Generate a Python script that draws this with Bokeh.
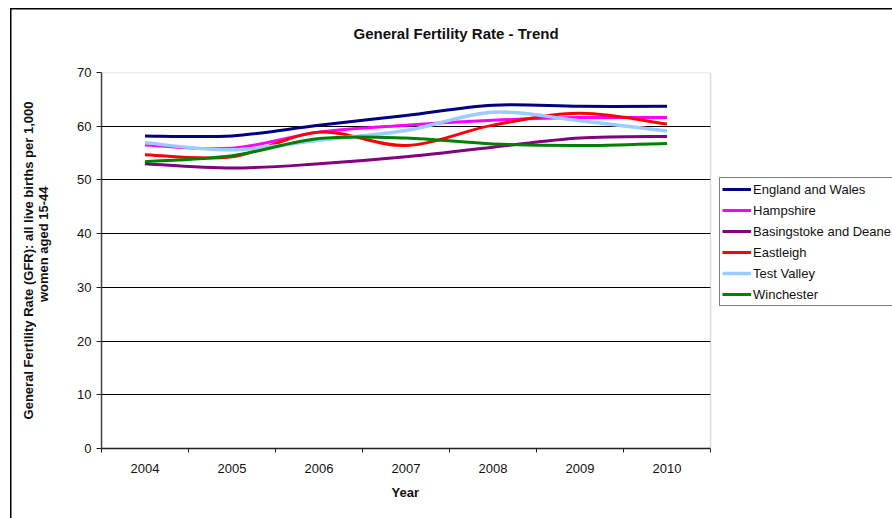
from bokeh.plotting import figure
from bokeh.models import (Range1d, FixedTicker, Legend, LegendItem, Title,
                          ColumnDataSource, LinearAxis, BoxAnnotation)
from bokeh.embed import file_html
from bokeh.resources import INLINE

# ---- data ----
years = ["2004", "2005", "2006", "2007", "2008", "2009", "2010"]
series_names = ["England and Wales", "Hampshire", "Basingstoke and Deane",
                "Eastleigh", "Test Valley", "Winchester"]
england_wales = [58.2, 58.2, 60.2, 62.0, 63.9, 63.7, 63.7]
hampshire = [56.5, 55.9, 58.9, 60.2, 61.1, 61.6, 61.6]
basingstoke = [53.0, 52.2, 53.0, 54.3, 56.1, 57.8, 58.1]
eastleigh = [54.7, 54.3, 58.9, 56.4, 60.2, 62.4, 60.4]
test_valley = [56.9, 55.6, 57.4, 59.2, 62.6, 61.0, 59.1]
winchester = [53.4, 54.5, 57.7, 57.8, 56.7, 56.4, 56.8]
y_ticks = [0, 10, 20, 30, 40, 50, 60, 70]

series_values = [england_wales, hampshire, basingstoke, eastleigh, test_valley, winchester]
colors = ["#000080", "#FF00FF", "#800080", "#FF0000", "#99CCFF", "#008000"]
widths = [3, 3, 3, 3, 3.5, 3]

FONT = "Liberation Sans"
FS = "13px"

W, H = 892, 518
PLOT_L, PLOT_R = 101, 710          # plot-area edges (px)
PLOT_T, PLOT_B = 72, 448
n_cat = len(years)
x_end = n_cat * (W - PLOT_L) / (PLOT_R - PLOT_L)   # frame extends under the legend

p = figure(width=W, height=H, output_backend="svg", toolbar_location=None,
           x_range=Range1d(0, x_end), y_range=Range1d(0, y_ticks[-1]),
           min_border_left=PLOT_L, min_border_right=0, min_border_top=PLOT_T,
           min_border_bottom=H - PLOT_B)
p.background_fill_color = "white"
p.border_fill_alpha = 0
p.styles = {
    "background-color": "white",
    "background-image": "linear-gradient(#000,#000), linear-gradient(#000,#000)",
    "background-size": "1.5px 100%, 100% 1.5px",
    "background-position": "10px 8px, 10px 8px",
    "background-repeat": "no-repeat",
}
p.outline_line_color = None

p.xgrid.grid_line_color = None
yg = p.ygrid[0]
yg.ticker = FixedTicker(ticks=y_ticks[1:-1])
yg.grid_line_color = "black"
yg.grid_line_width = 1

# hide grid lines to the right of the plot area, then draw plot-area border
p.add_layout(BoxAnnotation(left=n_cat, right=x_end, bottom=0, top=y_ticks[-1],
                           fill_color="white", fill_alpha=1, line_color=None,
                           level="underlay"))
p.add_layout(BoxAnnotation(left=0, right=n_cat, bottom=0, top=y_ticks[-1],
                           fill_alpha=0, line_color="#8a8a8a", line_width=1.5,
                           level="underlay"))

# title (second, blank line lifts it towards the top of the chart area)
p.title.text = "General Fertility Rate - Trend\n\u00a0"
p.title.align = "left"
p.title.offset = 252
p.title.standoff = 27
p.title.text_font = FONT
p.title.text_font_size = "15px"
p.title.text_font_style = "bold"
p.title.text_color = "#111"

# x axis: labels at category centres, ticks at boundaries
xpos = [i + 0.5 for i in range(n_cat)]
p.xaxis.bounds = (0, n_cat)
p.xaxis.ticker = FixedTicker(ticks=xpos, minor_ticks=list(range(n_cat + 1)))
p.xaxis.major_label_overrides = {x: y for x, y in zip(xpos, years)}
p.xaxis.major_tick_out = 0
p.xaxis.major_tick_in = 0
p.xaxis.minor_tick_out = 4
p.xaxis.minor_tick_in = 0
p.xaxis.minor_tick_line_color = "#222"
p.xaxis.axis_line_color = "#222"
p.xaxis.axis_line_width = 1.5
p.xaxis.major_label_standoff = 11
p.xaxis.major_label_text_font = FONT
p.xaxis.major_label_text_font_size = FS
p.xaxis.major_label_text_color = "#111"

year_title = Title(text="Year", align="left", offset=405 - PLOT_L - 14, standoff=14,
                   text_font=FONT, text_font_size=FS, text_font_style="bold",
                   text_color="#111")
p.add_layout(year_title, "below")

p.yaxis.ticker = FixedTicker(ticks=y_ticks)
p.yaxis.minor_tick_line_color = None
p.yaxis.major_tick_out = 5
p.yaxis.major_tick_in = 0
p.yaxis.major_tick_line_color = "#222"
p.yaxis.axis_line_color = "#444"
p.yaxis.axis_line_width = 1.5
p.yaxis.major_label_standoff = 5
p.yaxis.major_label_text_font = FONT
p.yaxis.major_label_text_font_size = FS
p.yaxis.major_label_text_color = "#111"
p.yaxis.axis_label = "\u00a0" * 9 + "women aged 15-44"
p.yaxis.axis_label_standoff = 23
p.yaxis.axis_label_text_font = FONT
p.yaxis.axis_label_text_font_size = FS
p.yaxis.axis_label_text_font_style = "bold"
p.yaxis.axis_label_text_color = "#111"

outer = LinearAxis(ticker=FixedTicker(ticks=[]), axis_line_color=None,
                   major_tick_line_color=None, minor_tick_line_color=None,
                   major_label_text_color=None,
                   axis_label="General Fertility Rate (GFR): all live births per 1,000",
                   axis_label_standoff=-2, axis_label_text_font=FONT,
                   axis_label_text_font_size=FS, axis_label_text_font_style="bold",
                   axis_label_text_color="#111")
p.add_layout(outer, "left")

# smoothed lines (cubic Bezier through the data points)
items = []
for name, vals, col, lw in zip(series_names, series_values, colors, widths):
    n = len(vals)
    x0, y0, x1, y1, cx0, cy0, cx1, cy1 = [], [], [], [], [], [], [], []
    for i in range(n - 1):
        ip = max(i - 1, 0)
        inx = min(i + 2, n - 1)
        x0.append(xpos[i]); y0.append(vals[i])
        x1.append(xpos[i + 1]); y1.append(vals[i + 1])
        cx0.append(xpos[i] + (xpos[i + 1] - xpos[ip]) / 6)
        cy0.append(vals[i] + (vals[i + 1] - vals[ip]) / 6)
        cx1.append(xpos[i + 1] - (xpos[inx] - xpos[i]) / 6)
        cy1.append(vals[i + 1] - (vals[inx] - vals[i]) / 6)
    src = ColumnDataSource(dict(x0=x0, y0=y0, x1=x1, y1=y1, cx0=cx0, cy0=cy0, cx1=cx1, cy1=cy1))
    r = p.bezier(x0="x0", y0="y0", x1="x1", y1="y1", cx0="cx0", cy0="cy0",
                 cx1="cx1", cy1="cy1", source=src, line_color=col, line_width=lw)
    items.append(LegendItem(label=name, renderers=[r]))

legend = Legend(items=items, location=(618, 142), orientation="vertical")
legend.label_text_font = FONT
legend.label_text_font_size = FS
legend.label_text_color = "#111"
legend.glyph_width = 29
legend.glyph_height = 18
legend.label_height = 18
legend.label_width = 170
legend.label_standoff = 2
legend.spacing = 3
legend.padding = 2
legend.margin = 0
legend.border_line_color = "black"
legend.border_line_width = 1
legend.background_fill_color = "white"
legend.background_fill_alpha = 1
p.add_layout(legend, "center")

open("out.html", "w").write(file_html(p, INLINE))
